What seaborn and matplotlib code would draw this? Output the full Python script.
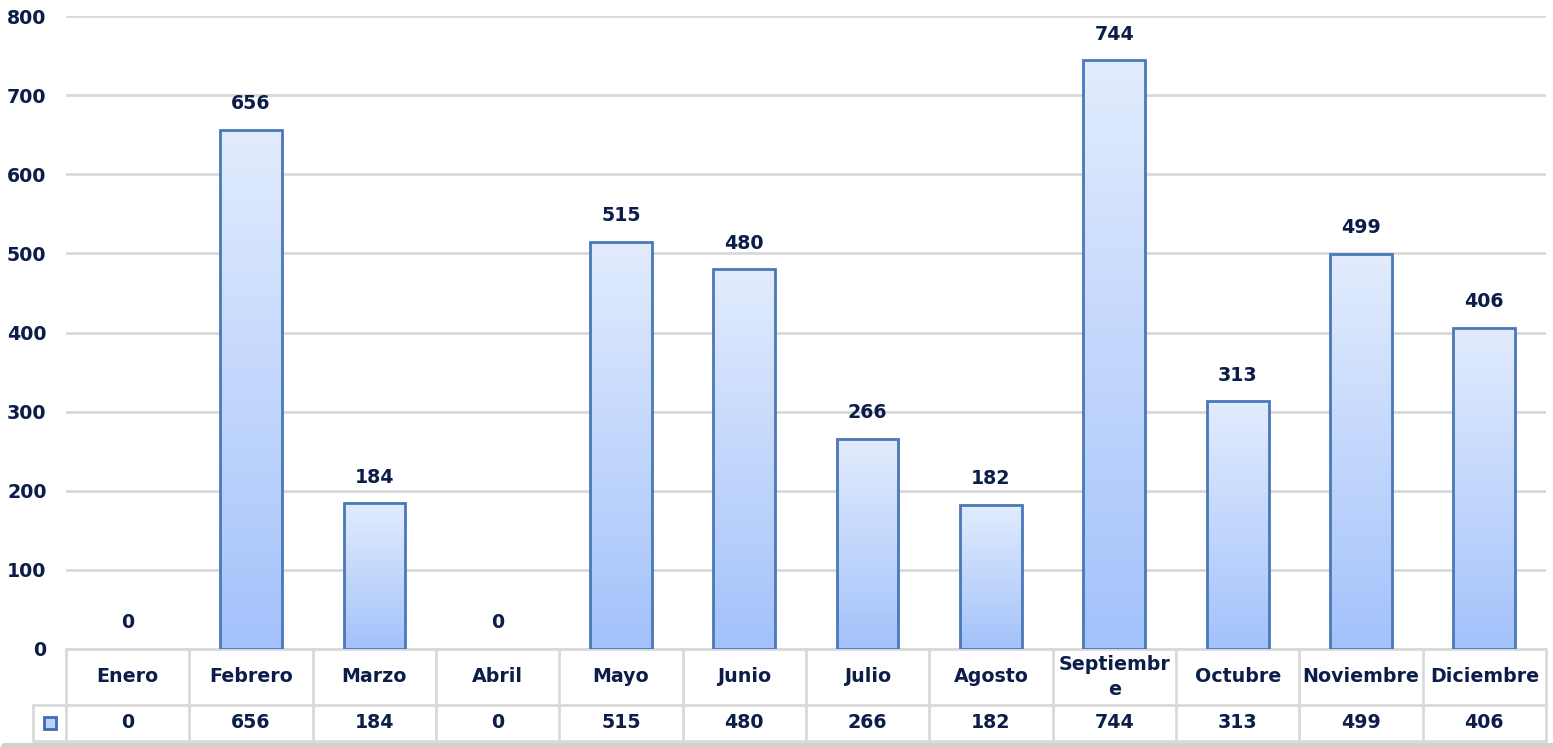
import numpy as np
import pandas as pd
import seaborn as sns
import matplotlib.pyplot as plt
from matplotlib.colors import LinearSegmentedColormap
from matplotlib.transforms import blended_transform_factory
from matplotlib.patches import Rectangle

# Data
meses = ['Enero', 'Febrero', 'Marzo', 'Abril', 'Mayo', 'Junio', 'Julio',
         'Agosto', 'Septiembre', 'Octubre', 'Noviembre', 'Diciembre']
etiquetas = ['Enero', 'Febrero', 'Marzo', 'Abril', 'Mayo', 'Junio', 'Julio',
             'Agosto', 'Septiembr\ne', 'Octubre', 'Noviembre', 'Diciembre']
valores = [0, 656, 184, 0, 515, 480, 266, 182, 744, 313, 499, 406]
yticks = [0, 100, 200, 300, 400, 500, 600, 700, 800]

df = pd.DataFrame({'mes': meses, 'valor': valores})

navy = '#0c1d4a'
edge = '#4a78b8'
grid = '#d9d9d9'
font = dict(fontweight='bold', color=navy)
fs = 13.7

sns.set_style('white')
plt.rcParams['font.family'] = ['DejaVu Sans']

fig = plt.figure(figsize=(15.53, 7.47), dpi=100)
ax = fig.add_axes([66 / 1553, 1 - 649 / 747, 1480 / 1553, 633 / 747])

sns.barplot(data=df, x='mes', y='valor', ax=ax, width=0.5, color='#c0d5fb',
            edgecolor=edge, linewidth=2, zorder=3)

# gradient fill for each bar
cmap = LinearSegmentedColormap.from_list('g', ['#a3c2fb', '#e2ecfd'])
grad = np.linspace(0, 1, 256).reshape(-1, 1)
for p in ax.patches:
    x0, y0 = p.get_x(), p.get_y()
    w, h = p.get_width(), p.get_height()
    if h <= 0:
        p.set_visible(False)
        continue
    p.set_facecolor('none')
    im = ax.imshow(grad, cmap=cmap, origin='lower', aspect='auto',
                   extent=[x0, x0 + w, y0, y0 + h], zorder=2.5)
    im.set_clip_path(p)

ax.set_xlim(-0.5, 11.5)
ax.set_ylim(0, 800)
ax.set_yticks(yticks)
ax.set_yticklabels([str(t) for t in yticks], fontsize=fs, **font)
ax.tick_params(axis='y', length=0, pad=14)
ax.set_xticks([])
ax.set_xlabel('')
ax.set_ylabel('')
ax.grid(axis='y', color=grid, linewidth=2, zorder=0)
for s in ax.spines.values():
    s.set_visible(False)

# value labels
for i, v in enumerate(valores):
    ax.annotate(str(v), (i, v), xytext=(0, 12), textcoords='offset points',
                ha='center', va='bottom', fontsize=fs, **font)

# data table below the axis
tr = blended_transform_factory(ax.transData, fig.transFigure)
y_top = 1 - 649 / 747
y_mid = 1 - 705 / 747
y_bot = 1 - 741 / 747
x_left = -0.5 - 33 / (1480 / 12)
lk = dict(color=grid, linewidth=2, transform=tr, clip_on=False)

ax.plot([-0.5, 11.5], [y_top, y_top], **lk)
ax.plot([x_left, 11.5], [y_mid, y_mid], **lk)
ax.plot([x_left, 11.5], [y_bot, y_bot], **lk)
ax.plot([x_left, x_left], [y_mid, y_bot], **lk)
for k in range(13):
    xb = -0.5 + k
    ax.plot([xb, xb], [y_top, y_bot], **lk)
ax.plot([-1, 12], [0.002, 0.002], color='#d0d0d0', linewidth=5,
        transform=tr, clip_on=False)

for i, (lab, v) in enumerate(zip(etiquetas, valores)):
    ax.text(i, (y_top + y_mid) / 2, lab, transform=tr, ha='center', va='center',
            fontsize=fs, linespacing=1.4, **font)
    ax.text(i, (y_mid + y_bot) / 2, str(v), transform=tr, ha='center',
            va='center', fontsize=fs, **font)

# legend key
kx = (x_left - 0.5) / 2
kw = 12 / (1480 / 12)
kh = 12 / 747
ax.add_patch(Rectangle((kx - kw / 2, (y_mid + y_bot) / 2 - kh / 2), kw, kh,
                       transform=tr, clip_on=False, facecolor='#bcd2fa',
                       edgecolor='#3f6db0', linewidth=2))

fig.savefig('out.png', dpi=100)
